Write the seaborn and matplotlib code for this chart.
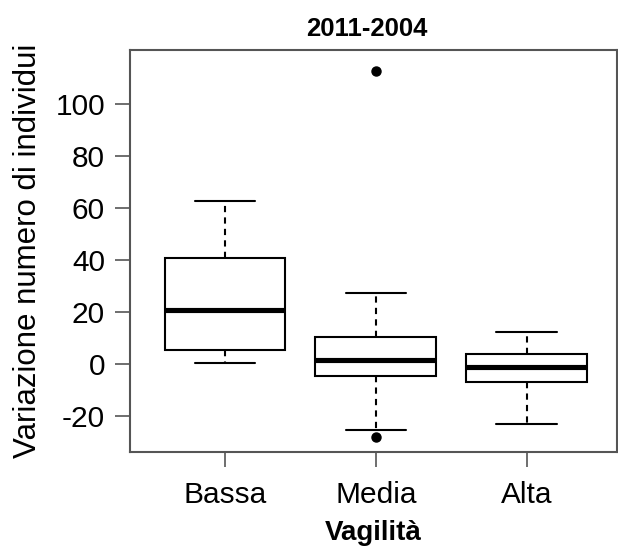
import matplotlib
matplotlib.use("Agg")
import matplotlib.pyplot as plt
import seaborn as sns
import pandas as pd

categories = ["Bassa", "Media", "Alta"]
bassa = [0.5, 5.5, 21.0, 40.8, 62.7]
media = [-28.0, -25.3, -4.6, -1.5, 1.5, 6.0, 10.5, 27.3, 112.7]
alta = [-23.1, -7.0, -1.2, 4.0, 12.2]
yticks = [-20, 0, 20, 40, 60, 80, 100]

groups = []
values = []
for name, vals in zip(categories, [bassa, media, alta]):
    groups += [name] * len(vals)
    values += vals
df = pd.DataFrame({"Vagilità": groups, "val": values})

sns.set_style("ticks")
plt.rcParams["font.family"] = ["Liberation Sans", "DejaVu Sans"]
plt.rcParams["text.color"] = "black"
plt.rcParams["axes.labelcolor"] = "black"
plt.rcParams["xtick.color"] = "black"
plt.rcParams["ytick.color"] = "black"

fig = plt.figure(figsize=(6.18, 5.46), dpi=100)
ax = fig.add_axes([130 / 618, (546 - 452) / 546, (617 - 130) / 618, (452 - 50) / 546])

sns.boxplot(
    data=df, x="Vagilità", y="val", order=categories, ax=ax,
    width=0.8, whis=1.5, color="white", linecolor="black", linewidth=1.5,
    boxprops=dict(facecolor="white", edgecolor="black"),
    medianprops=dict(linewidth=3.7, color="black"),
    whiskerprops=dict(linestyle=(0, (3, 2.5)), color="black", linewidth=1.5),
    capprops=dict(color="black", linewidth=1.5),
    flierprops=dict(marker="o", markerfacecolor="black", markeredgecolor="black", markersize=6.5),
)

ax.set_xlim(-0.63, 2.6)
ax.set_ylim(-33.8, 120.8)
ax.set_yticks(yticks)
ax.set_yticklabels([str(t) for t in yticks])
for s in ax.spines.values():
    s.set_visible(True)
    s.set_color("#555555")
    s.set_linewidth(1.5)
ax.tick_params(axis="both", length=11, width=1.2, color="#555555", labelsize=21.5, labelcolor="black")
ax.tick_params(axis="x", pad=10)
ax.tick_params(axis="y", pad=7)
ax.set_xlabel("Vagilità", fontsize=20, fontweight="bold", labelpad=8, color="black")
ax.set_ylabel("Variazione numero di individui", fontsize=22.5, labelpad=9, color="black")
ax.set_title("2011-2004", fontsize=18.5, fontweight="bold", pad=10, color="black",
             x=(367 - 130) / 487)

fig.savefig("out.png", dpi=100)
